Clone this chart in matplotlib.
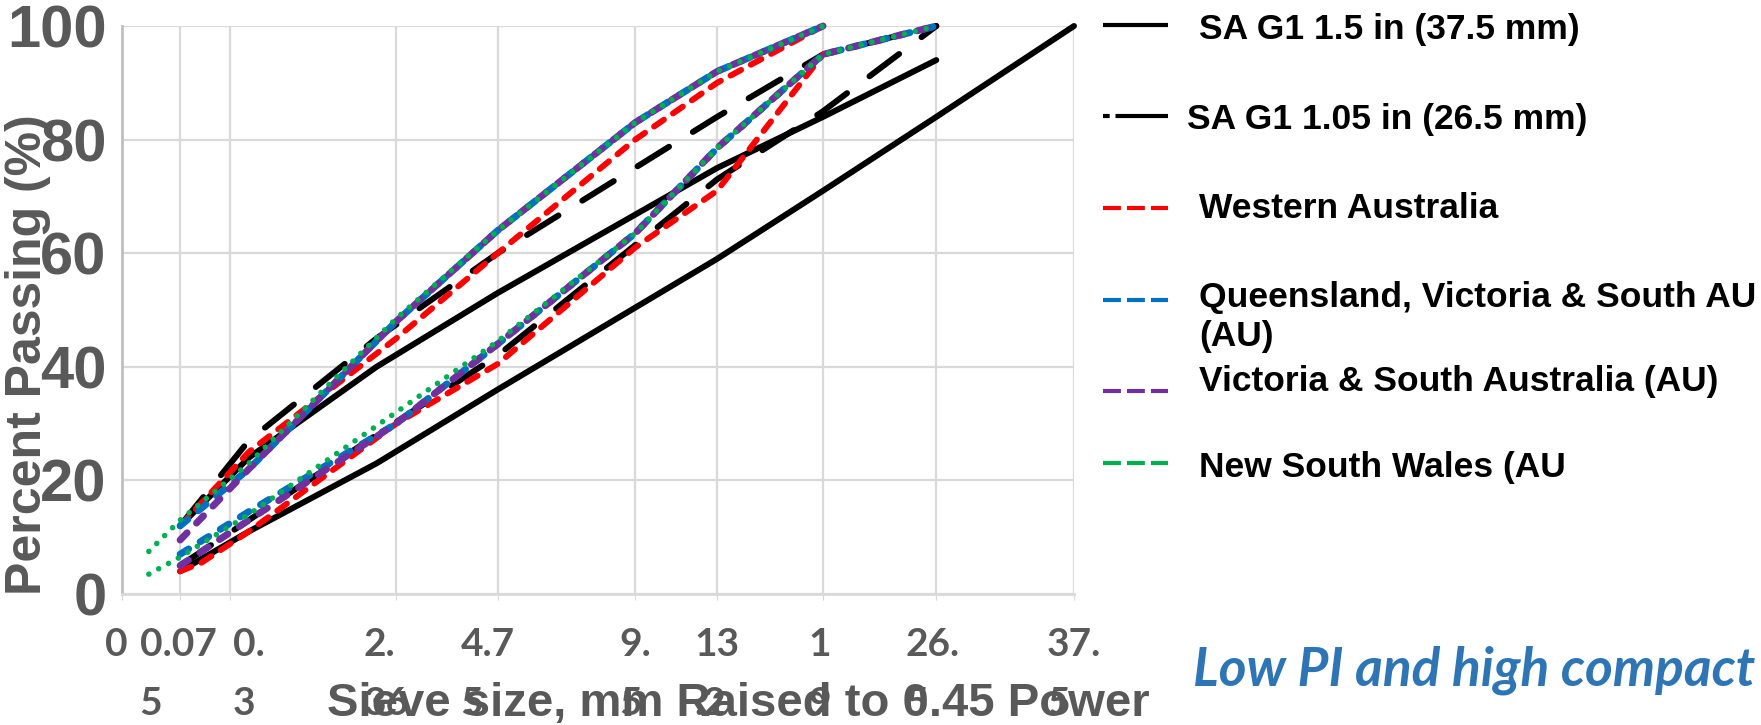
import numpy as np
import matplotlib
matplotlib.use('Agg')
import matplotlib.pyplot as plt
from matplotlib.lines import Line2D
from matplotlib.transforms import ScaledTranslation

# ---------------- data ----------------
tick_sizes = [0, 0.075, 0.3, 2.36, 4.75, 9.5, 13.2, 19.0, 26.5, 37.5]
tick_labels = ["0", "0.07\n5", "0.\n3", "2.\n36", "4.7\n5", "9.\n5", "13\n.2", "1\n9", "26.\n5", "37.\n5"]
y_ticks = [0, 20, 40, 60, 80, 100]

g1_375_sizes = [0.075, 0.425, 2.0, 4.75, 13.2, 19.0, 26.5, 37.5]
g1_375_lower = [4, 11, 23, 36, 59, 71, 84, 100]
g1_375_upper = [12, 24, 40, 53, 75, 84, 94]

g1_265_sizes = [0.075, 0.425, 2.0, 4.75, 13.2, 19.0, 26.5]
g1_265_lower = [5, 13, 28, 42, 73, 85, 100]
g1_265_upper = [12, 27, 45, 60, 84, 95, 100]

wa_lower_sizes = [0.075, 0.15, 0.425, 2.36, 4.75, 9.5, 13.2, 19.0]
wa_lower = [4, 5.5, 11, 30, 40.5, 61, 71, 95]
wa_upper_sizes = [0.075, 0.425, 2.36, 4.75, 9.5, 13.2, 19.0]
wa_upper = [12, 25, 45, 60, 80, 90, 100]

au_sizes = [0.075, 0.425, 2.36, 4.75, 9.5, 13.2, 19.0, 26.5]
qld_lower = [7, 14.5, 30, 44, 63.5, 78.5, 95, 100]
qld_upper = [12, 22, 48, 64, 83, 92, 100]
vic_lower = [5, 13, 30, 44, 63.5, 78.5, 95, 100]
vic_upper = [9.5, 22, 48, 64, 83, 92, 100]

nsw_sizes = [0.0135, 0.075, 0.425, 2.36, 4.75, 9.5, 13.2, 19.0, 26.5]
nsw_lower = [3.5, 6.5, 14, 32, 44.5, 63.5, 78.5, 95, 100]
nsw_upper = [7.5, 13, 23, 48.5, 64, 83, 92, 100]

legend_labels = ["SA G1 1.5 in (37.5 mm)", "SA G1 1.05 in (26.5 mm)", "Western Australia",
                 "Queensland, Victoria & South AU\n(AU)", "Victoria & South Australia (AU)",
                 "New South Wales (AU"]
note_text = "Low PI and high compact"

# ---------------- style ----------------
W, H = 1761, 725
GRAY = '#595959'
BOLD = ['Liberation Sans', 'DejaVu Sans']
RED, BLUE, PURPLE, GREEN = '#FF0000', '#0070C0', '#7030A0', '#00B050'

fig = plt.figure(figsize=(W / 100, H / 100), dpi=100)
ax = fig.add_axes([122 / W, 1 - 594 / H, (1074 - 122) / W, (594 - 26) / H])

fwd = lambda x: np.power(np.clip(x, 0, None), 0.45)
inv = lambda y: np.power(np.clip(y, 0, None), 1 / 0.45)
ax.set_xscale('function', functions=(fwd, inv))
ax.set_xlim(0, 37.5)
ax.set_ylim(0, 100)

solid = dict(color='black', lw=4.3, solid_capstyle='round', clip_on=False)
ax.plot(g1_375_sizes, g1_375_lower, **solid)
ax.plot(g1_375_sizes[:len(g1_375_upper)], g1_375_upper, **solid)

ldash = dict(color='black', lw=4.3, ls=(0, (6.2, 4.7)), dash_capstyle='round', clip_on=False)
ax.plot(g1_265_sizes, g1_265_lower, **ldash)
ax.plot(g1_265_sizes, g1_265_upper, **ldash)

rdash = dict(color=RED, lw=4.3, ls=(0, (2.0, 1.85)), dash_capstyle='round', clip_on=False)
ax.plot(wa_lower_sizes, wa_lower, **rdash)
ax.plot(wa_upper_sizes, wa_upper, **rdash)

bdash = dict(color=BLUE, lw=5.0, ls=(0, (1.45, 1.95)), dash_capstyle='round', clip_on=False)
ax.plot(au_sizes, qld_lower, **bdash)
ax.plot(au_sizes[:len(qld_upper)], qld_upper, **bdash)

pdash = dict(color=PURPLE, lw=5.0, ls=(0, (1.45, 1.95)), dash_capstyle='round', clip_on=False)
ax.plot(au_sizes, vic_lower, **pdash)
ax.plot(au_sizes[:len(vic_upper)], vic_upper, **pdash)

gdot = dict(color=GREEN, lw=4.0, ls=(0, (0.01, 2.0)), dash_capstyle='round', clip_on=False)
ax.plot(nsw_sizes, nsw_lower, **gdot)
ax.plot(nsw_sizes[:len(nsw_upper)], nsw_upper, **gdot)

# ---------------- axes ----------------
ax.set_xticks(tick_sizes)
ax.set_xticklabels(tick_labels, fontfamily=['Lato', 'DejaVu Sans'], fontweight='bold',
                   fontsize=28, color=GRAY, linespacing=1.8)
ax.set_yticks(y_ticks)
ax.set_yticklabels([str(v) for v in y_ticks], fontfamily=BOLD, fontweight='bold',
                   fontsize=43, color=GRAY)
ax.tick_params(axis='x', length=4, color='#D9D9D9', pad=20)
ax.tick_params(axis='y', length=0, pad=11)
ax.xaxis.set_minor_locator(matplotlib.ticker.NullLocator())

label_shift = [-6, -2, 18, -10, -10, 0, 0, -3, -4, 0]
for lab, dx in zip(ax.get_xticklabels(), label_shift):
    lab.set_multialignment('left')
    lab.set_transform(lab.get_transform() + ScaledTranslation(dx / 100, 0, fig.dpi_scale_trans))

ax.grid(True, color='#D9D9D9', lw=1.6)
ax.set_axisbelow(True)
for s in ['top', 'right']:
    ax.spines[s].set_visible(False)
ax.spines['left'].set_color('#BFBFBF')
ax.spines['left'].set_linewidth(2)
ax.spines['bottom'].set_color('#D9D9D9')
ax.spines['bottom'].set_linewidth(2)

fig.text(738 / W, 1 - 704 / H, "Sieve size, mm Raised to 0.45 Power", ha='center', va='center',
         fontfamily=BOLD, fontweight='bold', fontsize=34, color=GRAY)
fig.text(28 / W, 1 - 355 / H, "Percent Passing (%)", ha='center', va='center', rotation=90,
         fontfamily=BOLD, fontweight='bold', fontsize=36, color=GRAY)

# ---------------- legend ----------------
leg_line_y = [25, 116, 208, 300, 391, 463]
leg_text_y = [30, 119, 208, 317, 382, 468]
leg_text_x = [1199, 1187, 1199, 1199, 1199, 1199]
leg_styles = [
    dict(color='black', ls='-'),
    dict(color='black', ls=(0, (1.6, 1.4, 13, 0.1))),
    dict(color=RED, ls=(0, (4.3, 1.45))),
    dict(color=BLUE, ls=(0, (4.3, 1.45))),
    dict(color=PURPLE, ls=(0, (4.3, 1.45))),
    dict(color=GREEN, ls=(0, (4.3, 1.45))),
]
for ly, ty, tx, st, lab in zip(leg_line_y, leg_text_y, leg_text_x, leg_styles, legend_labels):
    fig.add_artist(Line2D([1103 / W, 1168 / W], [1 - ly / H, 1 - ly / H], transform=fig.transFigure,
                          lw=3, dash_capstyle='butt', solid_capstyle='butt', **st))
    fig.text(tx / W, 1 - ty / H, lab, ha='left', va='center', fontfamily=BOLD, fontweight='bold',
             fontsize=25.5, color='black', linespacing=1.25)

fig.text(1193 / W, 1 - 670 / H, note_text, ha='left', va='center',
         fontfamily=['Lato', 'DejaVu Sans'], fontweight='bold', fontstyle='italic',
         fontsize=38.3, color='#2E75B6')

fig.savefig('out.png', dpi=100)
